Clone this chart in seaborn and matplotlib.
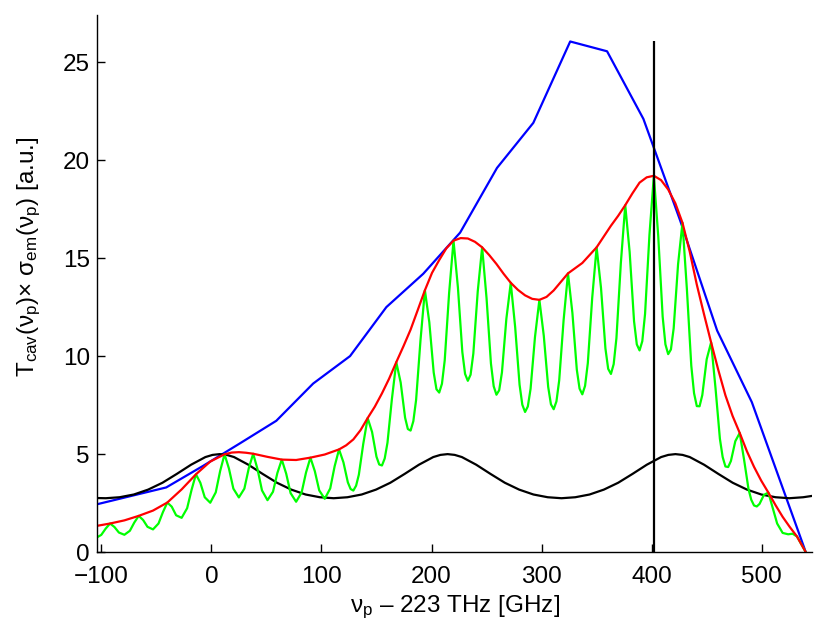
import numpy as np
import pandas as pd
import matplotlib
matplotlib.use("Agg")
import matplotlib.pyplot as plt
import seaborn as sns

# pump detuning axis (GHz) and curves
blue_x = [-104, -74, -41, -7.5, 26, 59, 92.5, 126, 159, 192.5, 226, 259.5,
          292.5, 326, 359.5, 392.5, 426, 459.5, 491, 540]
blue_y = [2.44, 2.85, 3.3, 4.4, 5.55, 6.7, 8.6, 10.0, 12.5, 14.2, 16.3, 19.6,
          21.9, 26.05, 25.55, 22.1, 16.9, 11.3, 7.65, 0.0]

# envelope (red), sampled at the fringe peaks, half way between, and
# extra readings where it bends
red_x = [-104, -92, -79, -66, -53, -40, -27, -14, -1, 12, 18.5, 25, 31.5, 38,
         51, 64, 77, 90, 103, 116, 122.5, 129, 135.5, 142, 148.5, 155, 161.5,
         168, 174.5, 181, 187.5, 194, 200.5, 207, 213.5, 220, 226.5, 233,
         239.5, 246, 252.5, 259, 265.5, 272, 278.5, 285, 291.5, 298, 304.5,
         311, 324, 337, 350, 363, 369.5, 376, 382.5, 389, 395.5, 402, 408.5,
         415, 421.5, 428, 434.5, 441, 447.5, 454, 460.5, 467, 473.5, 480,
         486.5, 493, 499.5, 506, 512.5, 519, 525.5, 532, 540]
red_y = [1.34, 1.46, 1.62, 1.85, 2.12, 2.53, 3.2, 3.97, 4.62, 4.99, 5.08, 5.1,
         5.07, 5.02, 4.86, 4.72, 4.70, 4.82, 4.98, 5.24, 5.45, 5.75, 6.22,
         6.84, 7.42, 8.1, 8.85, 9.69, 10.5, 11.35, 12.35, 13.36, 14.25, 14.9,
         15.5, 15.89, 16.02, 16.0, 15.83, 15.55, 15.15, 14.7, 14.2, 13.74,
         13.38, 13.1, 12.92, 12.87, 13.02, 13.35, 14.22, 14.75, 15.55, 16.65,
         17.15, 17.7, 18.3, 18.85, 19.12, 19.2, 18.98, 18.5, 17.8, 16.8, 15.35,
         13.65, 12.15, 10.7, 9.3, 8.0, 6.95, 6.08, 5.15, 4.35, 3.65, 3.04,
         2.4, 1.8, 1.28, 0.8, 0.0]

# fringes (green), one row per fringe period
green_x = [-104, -100, -96,
           -92, -88, -84, -79, -74, -70,
           -66, -62, -58, -53, -48, -44,
           -40, -36, -32, -27, -22, -18,
           -14, -10, -6, -1, 4, 8,
           12, 16, 20, 25, 30, 34,
           38, 42, 46, 51, 56, 60,
           64, 68, 72, 77, 82, 86,
           90, 94, 98, 103, 108, 112,
           116, 120, 124, 126.5, 129, 131.5, 134, 138,
           142, 146, 150, 152.5, 155, 157.5, 160, 164,
           168, 172, 176, 178.5, 181, 183.5, 186, 190,
           194, 198, 202, 204.5, 207, 209.5, 212, 216,
           220, 224, 228, 230.5, 233, 235.5, 238, 242,
           246, 250, 254, 256.5, 259, 261.5, 264, 268,
           272, 276, 280, 282.5, 285, 287.5, 290, 294,
           298, 302, 306, 308.5, 311, 313.5, 316, 320,
           324, 328, 332, 334.5, 337, 339.5, 342, 346,
           350, 354, 358, 360.5, 363, 365.5, 368, 372,
           376, 380, 384, 386.5, 389, 391.5, 394, 398,
           402, 406, 410, 412.5, 415, 417.5, 420, 424,
           428, 432, 436, 438.5, 441, 443.5, 446, 450,
           454, 458, 462, 464.5, 467, 469.5, 472, 476,
           480, 484, 488, 490.5, 493, 495.5, 498, 502,
           506, 510, 514, 519, 524, 528,
           532, 540]
green_y = [0.75, 0.88, 1.20,
           1.46, 1.28, 1.00, 0.885, 1.09, 1.51,
           1.85, 1.64, 1.29, 1.16, 1.46, 2.04,
           2.53, 2.32, 1.88, 1.75, 2.24, 3.17,
           3.97, 3.54, 2.80, 2.52, 3.05, 4.14,
           4.99, 4.26, 3.24, 2.79, 3.24, 4.28,
           5.02, 4.22, 3.15, 2.65, 3.08, 4.04,
           4.72, 4.00, 3.01, 2.57, 3.04, 4.06,
           4.82, 4.13, 3.15, 2.72, 3.25, 4.38,
           5.24, 4.58, 3.56, 3.22, 3.14, 3.39, 3.95, 5.52,
           6.84, 6.13, 4.87, 4.47, 4.42, 4.78, 5.58, 7.80,
           9.69, 8.65, 6.86, 6.28, 6.20, 6.68, 7.76, 10.81,
           13.36, 11.73, 9.16, 8.31, 8.14, 8.59, 9.78, 13.22,
           15.89, 13.50, 10.21, 9.09, 8.74, 9.05, 10.13, 13.30,
           15.55, 12.96, 9.62, 8.46, 8.03, 8.26, 9.17, 11.90,
           13.74, 11.48, 8.54, 7.52, 7.15, 7.43, 8.33, 10.97,
           12.87, 11.04, 8.43, 7.54, 7.29, 7.69, 8.76, 11.83,
           14.22, 12.20, 9.31, 8.34, 8.05, 8.48, 9.64, 12.98,
           15.55, 13.47, 10.39, 9.35, 9.09, 9.59, 10.92, 14.74,
           17.7, 15.31, 11.78, 10.60, 10.29, 10.76, 12.15, 16.19,
           19.2, 16.10, 12.01, 10.60, 10.10, 10.34, 11.42, 14.69,
           16.8, 13.42, 9.51, 8.11, 7.45, 7.44, 8.01, 9.84,
           10.7, 8.37, 5.78, 4.85, 4.37, 4.34, 4.65, 5.66,
           6.08, 4.70, 3.21, 2.67, 2.38, 2.33, 2.46, 2.92,
           3.04, 2.25, 1.46, 0.98, 0.91, 0.94,
           0.8, 0.0]

# single-mode cavity transmission (black)
black_x = [-104, -95.9, -83.4, -70.4, -57.4, -44.4, -31.4, -18.4, -5.4, 1.1,
           7.6, 14.1, 20.6, 33.6, 46.6, 59.6, 72.6, 85.6, 98.6, 111.1, 123.6,
           136.6, 149.6, 162.6, 175.6, 188.6, 201.6, 208.1, 214.6, 221.1, 227.6,
           240.6, 253.6, 266.6, 279.6, 292.6, 305.6, 318.1, 330.6, 343.6, 356.6,
           369.6, 382.6, 395.6, 408.6, 415.1, 421.6, 428.1, 434.6, 447.6, 460.6,
           473.6, 486.6, 499.6, 512.6, 525.1, 537.6, 546]
black_y = [2.76, 2.75, 2.80, 2.94, 3.19, 3.54, 3.99, 4.46, 4.85, 4.96,
           5.0, 4.96, 4.85, 4.46, 3.99, 3.54, 3.19, 2.94, 2.80, 2.75, 2.80,
           2.94, 3.19, 3.54, 3.99, 4.46, 4.85, 4.96, 5.0, 4.96, 4.85,
           4.46, 3.99, 3.54, 3.19, 2.94, 2.80, 2.75, 2.80, 2.94, 3.19,
           3.54, 3.99, 4.46, 4.85, 4.96, 5.0, 4.96, 4.85, 4.46, 3.99,
           3.54, 3.19, 2.94, 2.80, 2.75, 2.80, 2.87]

pump_x = 402

sns.set_style("ticks")
plt.rcParams['font.family'] = ['Liberation Sans', 'DejaVu Sans']
plt.rcParams['mathtext.fontset'] = 'custom'
plt.rcParams['mathtext.rm'] = 'Liberation Sans'
plt.rcParams['mathtext.it'] = 'Liberation Sans:italic'
plt.rcParams['text.color'] = 'black'
plt.rcParams['axes.labelcolor'] = 'black'
plt.rcParams['xtick.color'] = 'black'
plt.rcParams['ytick.color'] = 'black'
plt.rcParams['axes.edgecolor'] = 'black'

fig = plt.figure(figsize=(8.14, 6.26), dpi=100)
ax = fig.add_axes([0.119, 0.118, 0.879, 0.858])

lw = 1.6
sns.lineplot(x=blue_x, y=blue_y, color=(0, 0, 1), lw=lw, sort=False, estimator=None, ax=ax)
sns.lineplot(x=black_x, y=black_y, color='black', lw=lw, sort=False, estimator=None, ax=ax)
sns.lineplot(x=green_x, y=green_y, color=(0, 1, 0), lw=lw, sort=False, estimator=None, ax=ax)
sns.lineplot(x=red_x, y=red_y, color=(1, 0, 0), lw=lw, sort=False, estimator=None, ax=ax)
ax.vlines(pump_x, 0, max(blue_y), color='black', lw=lw)

ax.set_xlim(-104, 546)
ax.set_ylim(0, 27.4)
ax.set_xticks([-100, 0, 100, 200, 300, 400, 500])
ax.set_yticks([0, 5, 10, 15, 20, 25])
sns.despine(ax=ax)
for s in ['left', 'bottom']:
    ax.spines[s].set_linewidth(1.0)
ax.tick_params(direction='in', length=6, width=1.0, labelsize=17.5)
ax.tick_params(axis='x', pad=10)
ax.tick_params(axis='y', pad=5)

ax.set_xlabel('ν$_{\\mathrm{p}}$ – 223 THz [GHz]', fontsize=17.5, labelpad=4)
ax.set_ylabel('T$_{\\mathrm{cav}}$(ν$_{\\mathrm{p}}$)× σ$_{\\mathrm{em}}$(ν$_{\\mathrm{p}}$) [a.u.]',
              fontsize=17.5)
ax.yaxis.set_label_coords(-0.075, 0.55)

fig.savefig('out.png', dpi=100)
